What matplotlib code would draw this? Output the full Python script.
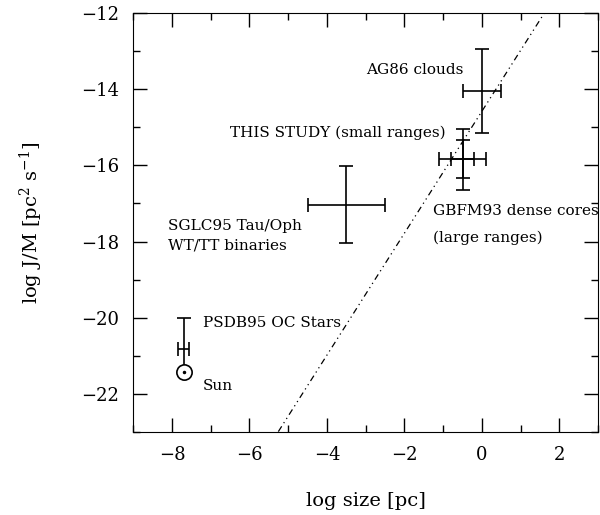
import matplotlib.pyplot as plt
from matplotlib.ticker import MultipleLocator

plt.rcParams['font.family'] = ['DejaVu Serif']
plt.rcParams['mathtext.fontset'] = 'dejavuserif'

# AG86 clouds
ag_x, ag_y = 0.0, -14.05
ag_xerr, ag_yerr = 0.5, 1.1

# THIS STUDY (small ranges) / GBFM93 dense cores (large ranges)
ts_x, ts_y = -0.5, -15.84
small_xerr, small_yerr = 0.3, 0.5
large_xerr, large_yerr = 0.6, 0.8

# SGLC95 Tau/Oph binaries
sg_x, sg_y = -3.5, -17.03
sg_xerr, sg_yerr = 1.0, 1.0

# PSDB95 OC stars and the Sun
ps_x, ps_y = -7.7, -20.82
ps_xerr = 0.15
ps_yerr_low, ps_yerr_high = 0.6, 0.82
sun_x, sun_y = -7.7, -21.42

# fitted relation
slope, intercept = 1.6, -14.58
line_x = [-9, 3]

fig = plt.figure(figsize=(6, 5.15), dpi=100)
ax = fig.add_axes([0.222, 0.161, 0.775, 0.814])

kw = dict(fmt='none', ecolor='black', elinewidth=1.2, capsize=5, capthick=1.2)
ax.errorbar(ag_x, ag_y, xerr=ag_xerr, yerr=ag_yerr, **kw)
ax.errorbar(ts_x, ts_y, xerr=large_xerr, yerr=large_yerr, **kw)
ax.errorbar(ts_x, ts_y, xerr=small_xerr, yerr=small_yerr, **kw)
ax.errorbar(sg_x, sg_y, xerr=sg_xerr, yerr=sg_yerr, **kw)
ax.errorbar(ps_x, ps_y, xerr=ps_xerr, yerr=[[ps_yerr_low], [ps_yerr_high]], **kw)

ax.plot(sun_x, sun_y, 'o', mfc='white', mec='black', ms=11, mew=1.2)
ax.plot(sun_x, sun_y, '.', color='black', ms=3)

ys = [slope * v + intercept for v in line_x]
ax.plot(line_x, ys, color='black', lw=0.9, dashes=[5, 3, 1, 3, 1, 3])

tkw = dict(fontsize=11, va='center', ha='left')
ax.text(-3.0, -13.5, 'AG86 clouds', **tkw)
ax.text(-6.5, -15.15, 'THIS STUDY (small ranges)', **tkw)
ax.text(-8.1, -17.6, 'SGLC95 Tau/Oph', **tkw)
ax.text(-8.1, -18.1, 'WT/TT binaries', **tkw)
ax.text(-1.27, -17.2, 'GBFM93 dense cores', clip_on=False, **tkw)
ax.text(-1.27, -17.9, '(large ranges)', **tkw)
ax.text(-7.2, -20.15, 'PSDB95 OC Stars', **tkw)
ax.text(-7.2, -21.8, 'Sun', **tkw)

ax.set_xlim(-9, 3)
ax.set_ylim(-23, -12)
ax.xaxis.set_major_locator(MultipleLocator(2))
ax.xaxis.set_minor_locator(MultipleLocator(1))
ax.yaxis.set_major_locator(MultipleLocator(2))
ax.yaxis.set_minor_locator(MultipleLocator(1))
ax.tick_params(which='both', direction='in', top=True, right=True, labelsize=13, pad=10)
ax.tick_params(which='major', length=10, width=1)
ax.tick_params(which='minor', length=5, width=1)

ax.set_xlabel('log size [pc]', fontsize=14, labelpad=20)
ax.set_ylabel('log J/M [pc$^2$ s$^{-1}$]', fontsize=14, labelpad=26)

fig.savefig('out.png', dpi=100)
